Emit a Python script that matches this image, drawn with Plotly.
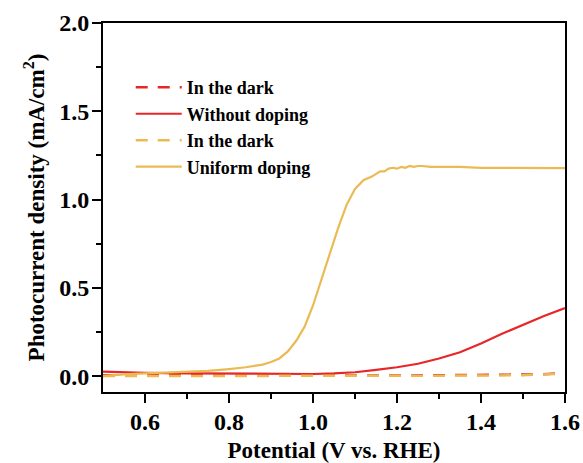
import plotly.graph_objects as go

# Potential (V vs. RHE) and photocurrent density (mA/cm^2)
v_uniform = [0.50, 0.55, 0.60, 0.65, 0.70, 0.75, 0.80, 0.84, 0.88, 0.90, 0.92, 0.94,
             0.96, 0.98, 1.00, 1.02, 1.04, 1.06, 1.08, 1.10, 1.12, 1.14, 1.16, 1.17,
             1.18, 1.19, 1.20, 1.21, 1.22, 1.23, 1.24, 1.25, 1.26, 1.28, 1.30, 1.35,
             1.40, 1.45, 1.50, 1.55, 1.60]
j_uniform = [0.000, 0.010, 0.015, 0.020, 0.025, 0.030, 0.040, 0.050, 0.065, 0.080, 0.100, 0.140,
             0.200, 0.280, 0.400, 0.550, 0.700, 0.840, 0.970, 1.060, 1.110, 1.130, 1.160, 1.160,
             1.175, 1.180, 1.175, 1.185, 1.180, 1.190, 1.185, 1.190, 1.190, 1.185, 1.185, 1.185,
             1.180, 1.180, 1.178, 1.178, 1.178]

v_undoped = [0.50, 0.60, 0.70, 0.80, 0.90, 1.00, 1.05, 1.10, 1.15, 1.20, 1.25, 1.30,
             1.35, 1.40, 1.45, 1.50, 1.55, 1.60]
j_undoped = [0.025, 0.018, 0.016, 0.014, 0.012, 0.012, 0.015, 0.022, 0.035, 0.050, 0.070, 0.100,
             0.135, 0.185, 0.240, 0.290, 0.340, 0.385]

v_dark = [0.50, 0.60, 0.70, 0.80, 0.90, 1.00, 1.10, 1.20, 1.30, 1.40, 1.50, 1.55, 1.60]
j_dark_undoped = [0.005, 0.004, 0.003, 0.003, 0.003, 0.003, 0.003, 0.003, 0.004, 0.005, 0.007, 0.010, 0.018]
j_dark_uniform = [0.000, 0.000, 0.000, 0.000, 0.000, 0.000, 0.000, 0.001, 0.002, 0.003, 0.005, 0.008, 0.015]

RED = "rgb(232,38,40)"
GOLD = "rgb(234,187,84)"
FONT = "Liberation Serif"

fig = go.Figure()
fig.add_trace(go.Scatter(x=v_dark, y=j_dark_undoped, mode="lines", name="In the dark",
                         line=dict(color=RED, width=2.5, dash="12px,10px")))
fig.add_trace(go.Scatter(x=v_undoped, y=j_undoped, mode="lines", name="Without doping",
                         line=dict(color=RED, width=2.2)))
fig.add_trace(go.Scatter(x=v_dark, y=j_dark_uniform, mode="lines", name="In the dark",
                         line=dict(color=GOLD, width=2.5, dash="12px,10px")))
fig.add_trace(go.Scatter(x=v_uniform, y=j_uniform, mode="lines", name="Uniform doping",
                         line=dict(color=GOLD, width=2.2)))

axis_common = dict(
    showgrid=False, zeroline=False, showline=True, linecolor="black", linewidth=2,
    mirror=True, ticks="outside", ticklen=9, tickwidth=2, tickcolor="black",
    automargin=False,
    tickfont=dict(family=FONT, size=24, color="black", weight="bold"),
)

fig.update_xaxes(
    range=[0.5, 1.6], tickvals=[0.6, 0.8, 1.0, 1.2, 1.4, 1.6],
    ticktext=["0.6", "0.8", "1.0", "1.2", "1.4", "1.6"],
    ticklabelstandoff=-2,
    minor=dict(tickvals=[0.7, 0.9, 1.1, 1.3, 1.5], ticks="outside", ticklen=5,
               tickwidth=2, tickcolor="black"),
    title=dict(text="Potential (V vs. RHE)", standoff=10,
               font=dict(family=FONT, size=23, color="black", weight="bold")),
    **axis_common,
)
fig.update_yaxes(
    range=[-0.09, 2.0], tickvals=[0.0, 0.5, 1.0, 1.5, 2.0],
    ticktext=["0.0", "0.5", "1.0", "1.5", "2.0"],
    ticklabelstandoff=-2,
    minor=dict(tickvals=[0.25, 0.75, 1.25, 1.75], ticks="outside", ticklen=5,
               tickwidth=2, tickcolor="black"),
    title=dict(text="Photocurrent density (mA/cm<sup>2</sup>)", standoff=8,
               font=dict(family=FONT, size=23, color="black", weight="bold")),
    **axis_common,
)

fig.update_layout(
    width=583, height=463,
    margin=dict(l=103, r=18, t=23, b=71),
    plot_bgcolor="white", paper_bgcolor="white",
    legend=dict(x=0.06, y=0.875, xanchor="left", yanchor="top",
                itemwidth=46, bgcolor="rgba(0,0,0,0)",
                font=dict(family=FONT, size=18, color="black", weight="bold")),
)

fig.write_html("out.html")
